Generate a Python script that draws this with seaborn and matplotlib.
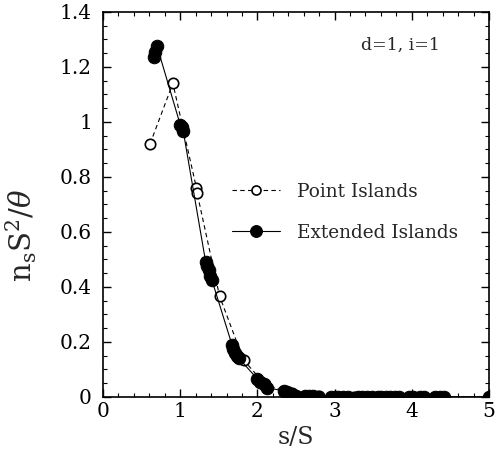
import matplotlib
matplotlib.use("Agg")
import matplotlib.pyplot as plt
import seaborn as sns
import pandas as pd
from matplotlib.ticker import MultipleLocator, FuncFormatter

sns.set_style("ticks")
plt.rcParams["font.family"] = ["DejaVu Serif"]
plt.rcParams["mathtext.fontset"] = "dejavuserif"

# Point islands (open circles, dashed)
point_s = [0.61, 0.905, 1.21, 1.22, 1.51, 1.82, 2.10, 2.45, 2.80, 3.25, 3.57]
point_n = [0.92, 1.14, 0.76, 0.74, 0.366, 0.134, 0.045, 0.012, 0.003, 0.001, 0.0]

# Extended islands (filled circles, solid)
ext_s = [0.66, 0.68, 0.70, 1.00, 1.02, 1.04, 1.33, 1.35, 1.37, 1.39, 1.41,
         1.67, 1.69, 1.71, 1.73, 1.76, 2.00, 2.04, 2.08, 2.13,
         2.34, 2.38, 2.42, 2.46, 2.50, 2.62, 2.67, 2.72, 2.78,
         2.95, 3.00, 3.05, 3.11, 3.17, 3.30, 3.36, 3.42, 3.48, 3.56,
         3.60, 3.66, 3.72, 3.78, 3.83, 3.96, 4.02, 4.10, 4.16,
         4.30, 4.36, 4.42, 5.00]
ext_n = [1.235, 1.255, 1.275, 0.99, 0.98, 0.965, 0.49, 0.475, 0.46, 0.44, 0.425,
         0.19, 0.175, 0.16, 0.15, 0.14, 0.065, 0.055, 0.045, 0.032,
         0.022, 0.016, 0.010, 0.006, 0.004, 0.003, 0.002, 0.0015, 0.001,
         0.0, 0.0, 0.0, 0.0, 0.0, 0.0, 0.0, 0.0, 0.0, 0.0,
         0.0, 0.0, 0.0, 0.0, 0.0, 0.0, 0.0, 0.0, 0.0,
         0.0, 0.0, 0.0, 0.0]

pts = pd.DataFrame({"s": point_s, "n": point_n})
ext = pd.DataFrame({"s": ext_s, "n": ext_n})

fig = plt.figure(figsize=(5.0, 4.54), dpi=100)
ax = fig.add_axes([0.206, 0.126, 0.772, 0.848])

sns.lineplot(data=pts, x="s", y="n", ax=ax, sort=False, estimator=None,
             color="black", lw=0.8, linestyle=(0, (4, 3)), marker="o",
             markersize=7.5, markerfacecolor="white", markeredgecolor="black",
             markeredgewidth=1.2, label="Point Islands", zorder=3)
sns.lineplot(data=ext, x="s", y="n", ax=ax, sort=False, estimator=None,
             color="black", lw=0.8, marker="o", markersize=9,
             markerfacecolor="black", markeredgecolor="black",
             label="Extended Islands", zorder=4)

ax.set_xlim(0, 5)
ax.set_ylim(0, 1.4)
ax.xaxis.set_major_locator(MultipleLocator(1))
ax.xaxis.set_minor_locator(MultipleLocator(0.2))
ax.yaxis.set_major_locator(MultipleLocator(0.2))
ax.yaxis.set_minor_locator(MultipleLocator(0.05))

def fmt(v, _):
    if abs(v - round(v)) < 1e-9:
        return f"{int(round(v))}"
    return f"{v:.1f}"

ax.xaxis.set_major_formatter(FuncFormatter(fmt))
ax.yaxis.set_major_formatter(FuncFormatter(fmt))

ax.tick_params(which="both", direction="in", top=True, right=True,
               labelsize=14.5, colors="black")
ax.tick_params(axis="y", which="major", pad=8)
ax.tick_params(which="major", length=6, width=1)
ax.tick_params(which="minor", length=3, width=0.8)
for sp in ax.spines.values():
    sp.set_linewidth(1.2)
    sp.set_color("black")

ax.set_xlabel("s/S", fontsize=17, labelpad=4)
ax.set_ylabel(r"n$_{\rm s}$S$^2$/$\theta$", fontsize=21)
ax.yaxis.set_label_coords(-0.165, 0.42)

ax.text(0.873, 0.914, "d=1, i=1", transform=ax.transAxes, ha="right",
        va="center", fontsize=12.5)

leg = ax.legend(loc="upper left", bbox_to_anchor=(0.316, 0.575), frameon=False,
                fontsize=13.3, handlelength=2.6, labelspacing=1.25,
                handletextpad=0.9, borderaxespad=0)
for h in leg.legend_handles:
    if h.get_markerfacecolor() == "white":
        h.set_markersize(6.5)
    else:
        h.set_markersize(8.5)

fig.savefig("out.png", dpi=100)
